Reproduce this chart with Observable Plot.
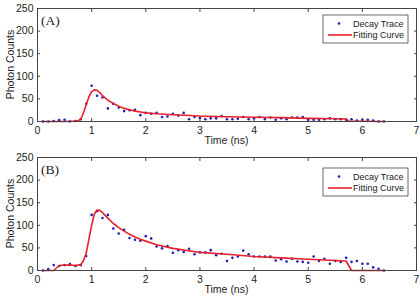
<!DOCTYPE html>
<html><head><meta charset="utf-8">
<script src="https://cdn.jsdelivr.net/npm/d3@7"></script>
<script src="https://cdn.jsdelivr.net/npm/@observablehq/plot@0.6"></script>
<style>
body{margin:0;background:#fff;}
#chart{width:420px;height:298px;}
svg{display:block;}
</style>
</head><body><div id="chart"></div>
<script>
// ---- data ----
const xTicks = [0, 1, 2, 3, 4, 5, 6, 7];
const yTicks = [0, 50, 100, 150, 200, 250];
const xLabel = "Time (ns)";
const yLabel = "Photon Counts";
const seriesNames = ["Decay Trace", "Fitting Curve"];
const panelLabels = ["(A)", "(B)"];

const traceTime = [0.1,0.2,0.3,0.4,0.5,0.6,0.7,0.8,0.9,1.0,1.1,1.2,1.3,1.4,1.5,1.6,1.7,1.8,1.9,2.0,2.1,2.2,2.3,2.4,2.5,2.6,2.7,2.8,2.9,3.0,3.1,3.2,3.3,3.4,3.5,3.6,3.7,3.8,3.9,4.0,4.1,4.2,4.3,4.4,4.5,4.6,4.7,4.8,4.9,5.0,5.1,5.2,5.3,5.4,5.5,5.6,5.7,5.8,5.9,6.0,6.1,6.2,6.3,6.4];

const traceA = [0,0,1,3,4,0,1,5,39,79,57,53,29,39,31,23,25,26,14,19,17,19,10,11,17,13,19,5,10,8,5,7,7,12,5,5,6,10,5,7,10,5,9,4,7,5,9,9,10,4,4,4,5,7,5,5,4,5,2,4,4,2,0,0];
const traceB = [0,3,12,10,12,14,10,12,32,123,131,116,123,93,82,90,72,68,66,76,71,53,49,54,39,45,41,48,36,40,40,45,34,37,21,28,31,44,36,31,31,31,31,22,25,20,26,20,19,17,31,21,26,15,21,19,28,19,21,15,15,7,4,0];

const fitTimeA = [0.1,0.3,0.5,0.7,0.75,0.8,0.85,0.9,0.95,1.0,1.05,1.1,1.15,1.2,1.3,1.4,1.5,1.6,1.7,1.8,1.9,2.0,2.2,2.5,3.0,3.5,4.0,4.5,5.0,5.5,5.7,5.75,6.0,6.4];
const fitA =     [0,  0,  0,  1,  2,   5,  20,  37,  55,  66,  70,  69,  64,  57, 47, 40, 34, 29, 26, 23, 21, 19, 17, 15, 12, 10.5, 9.5, 8.5, 7, 6, 5.5, 1, 0.5, 0];

const fitTimeB = [0.1,0.3,0.4,0.5,0.6,0.7,0.8,0.85,0.9,0.95,1.0,1.05,1.1,1.15,1.2,1.3,1.4,1.5,1.6,1.7,1.8,1.9,2.0,2.2,2.5,3.0,3.5,4.0,4.5,5.0,5.5,5.7,5.8,6.4];
const fitB =     [0,  0,  11, 12, 12, 11, 13, 22,  38, 70,  100,125, 134,133, 128,116,104,95, 87, 80, 74, 69, 65, 57, 49, 40, 36, 31, 28, 25, 22, 21, 0, 0];

// ---- drawing ----
const font = "'Liberation Sans', Arial, sans-serif";
const panels = [
  {label: panelLabels[0], trace: traceA, fitT: fitTimeA, fit: fitA, legendTop: 15},
  {label: panelLabels[1], trace: traceB, fitT: fitTimeB, fit: fitB, legendTop: 19}
];

const W = 420, H = 149, mL = 37, mR = 4, mT = 8, mB = 28;
const root = document.getElementById("chart");

for (const p of panels) {
  const pts = traceTime.map((t, i) => ({t, v: p.trace[i]}));
  const fit = p.fitT.map((t, i) => ({t, v: p.fit[i]}));
  const chart = Plot.plot({
    width: W, height: H,
    marginLeft: mL, marginRight: mR, marginTop: mT, marginBottom: mB,
    style: {fontFamily: font, fontSize: "10.5px", color: "#222", background: "#fff", overflow: "visible"},
    x: {domain: [0, 7]},
    y: {domain: [0, 250]},
    marks: [
      Plot.axisX({anchor: "bottom", ticks: xTicks, tickSize: -3, tickPadding: 8, tickFormat: d => String(d), label: null, stroke: "#444"}),
      Plot.axisX({anchor: "top", ticks: xTicks, tickSize: -3, text: null, label: null, stroke: "#444"}),
      Plot.axisY({anchor: "left", ticks: yTicks, tickSize: -3, tickPadding: 7, tickFormat: d => String(d), label: null, stroke: "#444"}),
      Plot.axisY({anchor: "right", ticks: yTicks, tickSize: -3, text: null, label: null, stroke: "#444"}),
      Plot.dot(pts, {x: "t", y: "v", r: 1.3, fill: "#1f1fb4", stroke: "none"}),
      Plot.line(fit, {x: "t", y: "v", stroke: "#e8202a", strokeWidth: 1.6}),
      Plot.frame({stroke: "#444"})
    ]
  });
  const svg = d3.select(chart);
  // axis titles
  svg.append("text")
    .attr("x", (mL + W - mR) / 2).attr("y", H - 5)
    .attr("text-anchor", "middle")
    .style("font", `10.5px ${font}`).attr("fill", "#222")
    .text(xLabel);
  svg.append("text")
    .attr("transform", `translate(10,${(mT + H - mB) / 2}) rotate(-90)`)
    .attr("text-anchor", "middle").attr("dominant-baseline", "central")
    .style("font", `10.5px ${font}`).attr("fill", "#222")
    .text(yLabel);
  // panel label
  svg.append("text")
    .attr("x", 41).attr("y", mT + 17).attr("text-anchor", "start")
    .style("font", `13.5px 'Liberation Serif', 'Times New Roman', serif`).attr("fill", "#222")
    .text(p.label);
  // legend
  const g = svg.append("g").attr("transform", `translate(323,${p.legendTop})`);
  g.append("rect").attr("width", 85).attr("height", 28).attr("fill", "#fff").attr("stroke", "#444").attr("stroke-width", 0.8);
  g.append("circle").attr("cx", 16).attr("cy", 8.5).attr("r", 1.3).attr("fill", "#1f1fb4");
  g.append("line").attr("x1", 5).attr("x2", 29).attr("y1", 20).attr("y2", 20).attr("stroke", "#e8202a").attr("stroke-width", 1.6);
  g.append("text").attr("x", 30).attr("y", 8.5).attr("text-anchor", "start").attr("dominant-baseline", "central")
    .style("font", `9px ${font}`).attr("fill", "#222").text(seriesNames[0]);
  g.append("text").attr("x", 30).attr("y", 20).attr("text-anchor", "start").attr("dominant-baseline", "central")
    .style("font", `9px ${font}`).attr("fill", "#222").text(seriesNames[1]);
  root.appendChild(chart);
}
</script>
</body></html>
